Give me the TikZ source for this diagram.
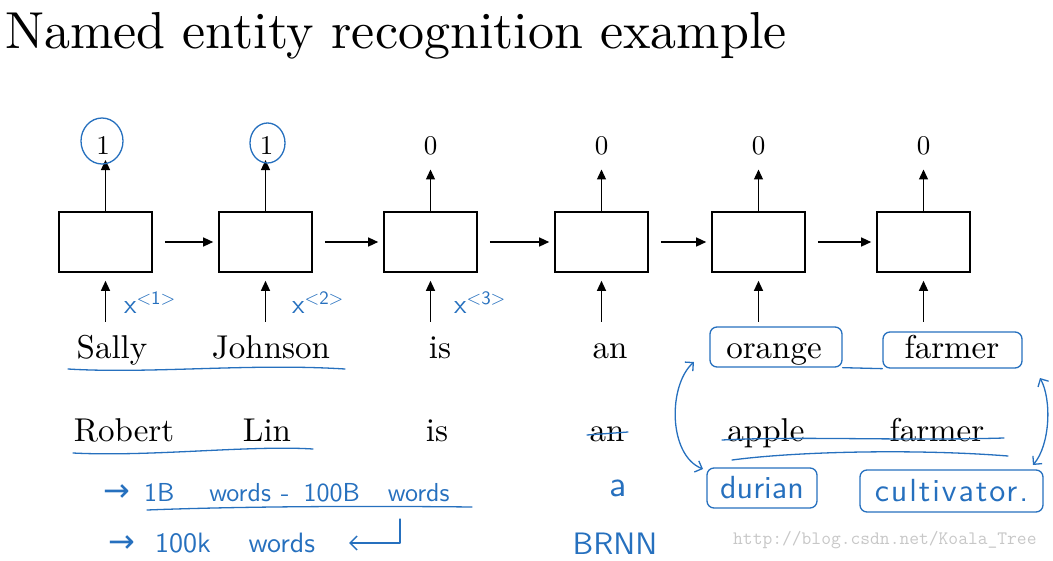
\documentclass[tikz,border=0pt]{standalone}
\usepackage{fontspec}
\setmainfont{lmroman10-regular.otf}
\setsansfont{lmsans10-regular.otf}
\newfontfamily\arrowfont{DejaVu Sans}
\usetikzlibrary{arrows.meta,positioning}
\definecolor{penblue}{RGB}{38,112,190}

\begin{document}
\begin{tikzpicture}[x=1pt,y=-1pt,
    cell/.style={draw,line width=1.6pt,minimum width=93pt,minimum height=60pt,inner sep=0pt},
    word/.style={anchor=base,inner sep=0pt,text height=23pt,text depth=7pt,font=\fontsize{33}{36}\selectfont},
    outval/.style={inner sep=0pt,font=\fontsize{27}{30}\selectfont},
    flow/.style={line width=1.3pt,-{Triangle[length=10pt,width=9pt]}},
    ink/.style={penblue,line width=1.3pt,line cap=round,line join=round},
    inkbox/.style={ink,draw,rounded corners=7pt,inner sep=0pt},
    note/.style={text=penblue,inner sep=0pt,font=\sffamily\fontsize{28}{30}\selectfont}]
  \useasboundingbox (0,0) rectangle (1053,560);
  \node[anchor=base west,inner sep=0pt,font=\fontsize{52}{56}\selectfont] (title) at (5,48) {Named entity recognition example};

  % the recurrent cells
  \node[cell] (c1) at (105.5,242) {};
  \node[cell] (c2) at (265.5,242) {};
  \node[cell] (c3) at (430.5,242) {};
  \node[cell] (c4) at (601.5,242) {};
  \node[cell] (c5) at (758.5,242) {};
  \node[cell] (c6) at (923.5,242) {};

  \node[outval] (y1) at (103,146) {1};
  \node[outval] (y2) at (266.5,146) {1};
  \node[outval] (y3) at (430.5,146) {0};
  \node[outval] (y4) at (601.5,146) {0};
  \node[outval] (y5) at (758.5,146) {0};
  \node[outval] (y6) at (923.5,146) {0};

  \node[word] (w1) at (112,358) {Sally};
  \node[word] (w2) at (271,358) {Johnson};
  \node[word] (w3) at (440,358) {is};
  \node[word] (w4) at (610,358) {an};
  \node[word] (w5) at (774,358) {orange};
  \node[word] (w6) at (952,358) {farmer};

  \node[word] (v1) at (124,441) {Robert};
  \node[word] (v2) at (267,441) {Lin};
  \node[word] (v3) at (437,441) {is};
  \node[word] (v4) at (607,441) {an};
  \node[word] (v5) at (766,441) {apple};
  \node[word] (v6) at (937,441) {farmer};

  \draw[flow,shorten >=14pt] (c1) -- (c1 |- y1);
  \draw[flow,shorten >=14pt] (c2) -- (c2 |- y2);
  \draw[flow,shorten >=14pt] (c3) -- (y3);
  \draw[flow,shorten >=14pt] (c4) -- (y4);
  \draw[flow,shorten >=14pt] (c5) -- (y5);
  \draw[flow,shorten >=14pt] (c6) -- (y6);

  \draw[flow,shorten <=13pt,shorten >=8pt] (w1.north -| c1) -- (c1);
  \draw[flow,shorten <=13pt,shorten >=8pt] (w2.north -| c2) -- (c2);
  \draw[flow,shorten <=13pt,shorten >=8pt] (w3.north -| c3) -- (c3);
  \draw[flow,shorten <=13pt,shorten >=8pt] (w4.north -| c4) -- (c4);
  \draw[flow,shorten <=13pt,shorten >=8pt] (w5.north -| c5) -- (c5);
  \draw[flow,shorten <=13pt,shorten >=8pt] (w6.north -| c6) -- (c6);

  \draw[flow,shorten <=12pt,shorten >=5pt] (c1) -- (c2);
  \draw[flow,shorten <=12pt,shorten >=5pt] (c2) -- (c3);
  \draw[flow,shorten <=12pt,shorten >=5pt] (c3) -- (c4);
  \draw[flow,shorten <=12pt,shorten >=5pt] (c4) -- (c5);
  \draw[flow,shorten <=12pt,shorten >=5pt] (c5) -- (c6);

  % pen notes
  \draw[ink] ([shift={(-1,-5)}]y1) ellipse [x radius=21pt,y radius=23pt];
  \draw[ink] ([shift={(1,-3)}]y2) ellipse [x radius=17.5pt,y radius=20pt];
  \node[note,font=\sffamily\fontsize{27}{30}\selectfont] (x1) at (150,303) {x\textsuperscript{<1>}};
  \node[note,font=\sffamily\fontsize{27}{30}\selectfont] (x2) at (318,303) {x\textsuperscript{<2>}};
  \node[note,font=\sffamily\fontsize{27}{30}\selectfont] (x3) at (480,303) {x\textsuperscript{<3>}};

  \draw[ink] (68,369) .. controls (150,374) and (250,363) .. (345,369);
  \draw[ink] (73,453) .. controls (150,457) and (250,445) .. (313,449);
  \draw[ink] (587,435) -- (628,432);
  \draw[ink] (722,440) .. controls (800,436) and (900,441) .. (1004,438);
  \draw[ink] (732,460) .. controls (800,451) and (920,449) .. (1008,456);

  \node[inkbox,minimum width=132pt,minimum height=40pt] (bo) at (776,347) {};
  \node[inkbox,minimum width=139pt,minimum height=36pt] (bf) at (952.5,350) {};
  \draw[ink] (bo.south east) -- (bf.south west);
  \node[inkbox,note,font=\sffamily\fontsize{32}{34}\selectfont,minimum width=110pt,minimum height=40pt] (bd) at (762,488) {durian};
  \node[inkbox,note,font=\sffamily\fontsize{32}{34}\selectfont\addfontfeature{LetterSpace=6},minimum width=183pt,minimum height=42pt] (bc) at (951.5,491) {cultivator.};

  \coordinate (ltop) at (694,362);
  \coordinate (lbot) at (703,469);
  \coordinate (rtop) at (1040,378);
  \coordinate (rbot) at (1033,465);
  \draw[ink,{Straight Barb[length=6pt]}-{Straight Barb[length=6pt]}] (ltop) .. controls (668,385) and (668,455) .. (lbot);
  \draw[ink,{Straight Barb[length=6pt]}-{Straight Barb[length=6pt]}] (rtop) .. controls (1052,400) and (1050,445) .. (rbot);

  \node[note,anchor=west,font=\sffamily\fontsize{26}{30}\selectfont] (n1) at (103,493) {{\arrowfont\fontsize{32}{32}\selectfont →}\hspace{14pt}1B\hspace{35pt}words\hspace{10pt}-\hspace{14pt}100B\hspace{28pt}words};
  \draw[ink] (147,510) .. controls (250,506) and (380,506) .. (472,507);
  \node[note,anchor=west] (n2) at (108,543) {{\arrowfont\fontsize{32}{32}\selectfont →}\hspace{20pt}100k\hspace{38pt}words};
  \coordinate (hook) at (400,519);
  \draw[ink,-{Straight Barb[length=7pt]},shorten >=34pt] (hook) |- (n2.east);

  \node[note,font=\sffamily\fontsize{36}{40}\selectfont] (na) at (618,488) {a};
  \node[note,font=\sffamily\fontsize{31}{34}\selectfont] (brnn) at (615,544) {BRNN};

  \node[anchor=west,inner sep=0pt,text=black!22,font=\ttfamily\fontsize{19}{20}\selectfont] (mark) at (733,540) {http://blog.csdn.net/Koala\_Tree};
\end{tikzpicture}
\end{document}
